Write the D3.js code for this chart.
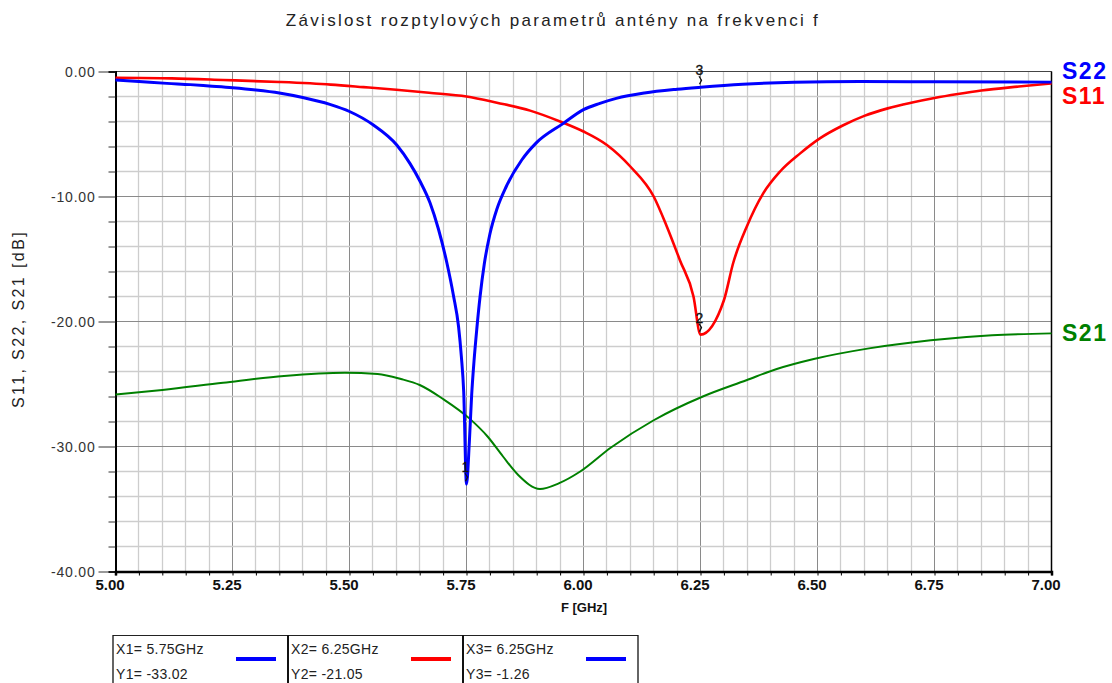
<!DOCTYPE html>
<html>
<head>
<meta charset="utf-8">
<script src="https://cdn.jsdelivr.net/npm/d3@7"></script>
<style>
  html, body { margin: 0; padding: 0; background: #fff; }
  svg { display: block; font-family: "Liberation Sans", Arial, sans-serif; }
</style>
</head>
<body>
<svg id="chart" width="1112" height="683"></svg>
<script>
// S-parameter sweep, frequency in GHz, magnitude in dB
const s22Freq = [5.00,5.05,5.11,5.16,5.20,5.25,5.30,5.35,5.40,5.458,5.50,5.551,5.601,5.629,5.651,5.672,5.690,5.708,5.722,5.733,5.739,5.744,5.75,5.756,5.761,5.766,5.772,5.779,5.788,5.800,5.815,5.835,5.868,5.898,5.957,6.00,6.035,6.07,6.13,6.20,6.25,6.34,6.45,6.59,6.75,7.00];
const s22Val  = [-0.68,-0.80,-0.95,-1.05,-1.16,-1.30,-1.48,-1.72,-2.08,-2.63,-3.20,-4.28,-5.88,-7.35,-8.80,-10.5,-12.6,-15.3,-17.9,-20.4,-22.8,-25.6,-33.02,-29.7,-25.9,-23.2,-20.6,-18.0,-15.4,-13.0,-11.0,-9.2,-7.08,-5.75,-4.15,-3.05,-2.55,-2.15,-1.72,-1.42,-1.26,-1.02,-0.86,-0.80,-0.82,-0.85];

const s11Freq = [5.00,5.12,5.23,5.35,5.46,5.53,5.60,5.67,5.75,5.815,5.886,5.95,6.00,6.05,6.10,6.15,6.178,6.206,6.235,6.25,6.30,6.32,6.349,6.384,6.42,6.463,6.505,6.555,6.60,6.65,6.70,6.75,6.80,6.85,6.93,7.00];
const s11Val  = [-0.50,-0.55,-0.68,-0.84,-1.05,-1.25,-1.46,-1.70,-2.00,-2.50,-3.13,-4.00,-4.80,-5.88,-7.60,-10.0,-12.4,-15.1,-18.0,-21.05,-18.3,-15.3,-12.4,-9.75,-8.00,-6.55,-5.35,-4.30,-3.55,-2.95,-2.50,-2.12,-1.80,-1.52,-1.20,-0.95];

const s21Freq = [5.00,5.10,5.23,5.36,5.49,5.56,5.61,5.65,5.70,5.756,5.795,5.828,5.861,5.907,5.947,5.993,6.058,6.15,6.255,6.348,6.413,6.492,6.61,6.742,6.873,7.00];
const s21Val  = [-25.85,-25.48,-24.9,-24.36,-24.1,-24.2,-24.6,-25.08,-26.2,-27.75,-29.2,-30.8,-32.3,-33.4,-32.95,-32.0,-30.1,-27.9,-26.0,-24.7,-23.8,-23.0,-22.15,-21.5,-21.1,-20.95];

const seriesNames  = ["S22", "S11", "S21"];
const seriesColors = ["#0000ff", "#ff0000", "#008000"];

// Markers: index, frequency, value, colour of the traced curve
const markerIds    = [1, 2, 3];
const markerFreq   = [5.75, 6.25, 6.25];
const markerVal    = [-33.02, -21.05, -1.26];
const markerColors = ["#0000ff", "#ff0000", "#0000ff"];

const xTicks = [5.00, 5.25, 5.50, 5.75, 6.00, 6.25, 6.50, 6.75, 7.00];
const yTicks = [0, -10, -20, -30, -40];

// Plain hyphen as the minus sign
const fmt2 = d3.formatLocale({ decimal: ".", thousands: ",", grouping: [3], currency: ["", ""], minus: "-" }).format(".2f");

const svg = d3.select("#chart");

const x = d3.scaleLinear().domain([5, 7]).range([115.5, 1051.5]);
const y = d3.scaleLinear().domain([0, -40]).range([71.5, 571.5]);

// Title
svg.append("text")
  .attr("x", 553).attr("y", 26)
  .attr("text-anchor", "middle")
  .attr("font-size", 17).attr("letter-spacing", 2.3).attr("fill", "#222")
  .text("Závislost rozptylových parametrů antény na frekvenci f");

// Grid
const grid = svg.append("g");
const xMinor = d3.range(0, 41).map(i => 5 + i * 0.05);
const yMinor = d3.range(0, 21).map(i => -i * 2);
grid.selectAll(".vx").data(xMinor).join("line")
  .attr("x1", d => Math.round(x(d) - 0.5) + 0.5).attr("x2", d => Math.round(x(d) - 0.5) + 0.5)
  .attr("y1", y(0)).attr("y2", y(-40))
  .attr("stroke", (d, i) => i % 5 === 0 ? "#8a8a8a" : "#cdcdcd")
  .attr("stroke-width", (d, i) => i % 5 === 0 ? 1 : 1.3);
grid.selectAll(".hy").data(yMinor).join("line")
  .attr("y1", d => y(d)).attr("y2", d => y(d))
  .attr("x1", x(5)).attr("x2", x(7))
  .attr("stroke", (d, i) => i % 5 === 0 ? "#8a8a8a" : "#cdcdcd")
  .attr("stroke-width", (d, i) => i % 5 === 0 ? 1 : 1.3);

// Frame
svg.append("line").attr("x1", x(5)).attr("x2", x(7)).attr("y1", y(0)).attr("y2", y(0))
  .attr("stroke", "#444").attr("stroke-width", 1);
svg.append("line").attr("x1", x(7)).attr("x2", x(7)).attr("y1", y(0)).attr("y2", y(-40))
  .attr("stroke", "#000").attr("stroke-width", 1.5);

// Y axis
const yAxis = d3.axisLeft(y)
  .tickValues(yMinor)
  .tickSize(7)
  .tickFormat(d => yTicks.includes(d) ? fmt2(d) : "");
const gy = svg.append("g").attr("transform", `translate(${x(5)},0)`).call(yAxis);
gy.select(".domain").attr("stroke", "#000").attr("stroke-width", 2);
gy.selectAll(".tick line")
  .attr("x2", d => yTicks.includes(d) ? -17 : -7)
  .attr("stroke", "#333");
gy.selectAll(".tick text")
  .attr("x", -20).attr("dy", "0.35em")
  .attr("font-family", "Liberation Sans, Arial, sans-serif")
  .attr("font-size", 14).attr("letter-spacing", 0.8).attr("fill", "#333");

// X axis
const xAxis = d3.axisBottom(x)
  .tickValues(xMinor)
  .tickSize(4)
  .tickFormat(d => xTicks.some(t => Math.abs(t - d) < 1e-9) ? fmt2(d) : "");
const gx = svg.append("g").attr("transform", `translate(0,${y(-40)})`).call(xAxis);
gx.select(".domain").attr("stroke", "#000").attr("stroke-width", 2.5);
gx.selectAll(".tick line").attr("stroke", "#000");
gx.selectAll(".tick text")
  .attr("x", -6).attr("y", 6).attr("dy", "0.8em")
  .attr("font-family", "Liberation Sans, Arial, sans-serif")
  .attr("font-size", 15).attr("font-weight", "bold").attr("fill", "#111");

// Axis titles
svg.append("text")
  .attr("x", 584).attr("y", 612)
  .attr("text-anchor", "middle")
  .attr("font-size", 13).attr("font-weight", "bold").attr("fill", "#111")
  .text("F [GHz]");
svg.append("text")
  .attr("transform", "translate(24,319) rotate(-90)")
  .attr("text-anchor", "middle")
  .attr("font-size", 16).attr("letter-spacing", 2.4).attr("fill", "#222")
  .text("S11, S22, S21 [dB]");

// Curves
const line = d3.line()
  .x(d => x(d[0])).y(d => y(d[1]))
  .curve(d3.curveMonotoneX);
const curves = [
  { f: s21Freq, v: s21Val, color: seriesColors[2], w: 2 },
  { f: s11Freq, v: s11Val, color: seriesColors[1], w: 2.6 },
  { f: s22Freq, v: s22Val, color: seriesColors[0], w: 3 }
];
curves.forEach(c => {
  svg.append("path")
    .datum(c.f.map((f, i) => [f, c.v[i]]))
    .attr("d", line)
    .attr("fill", "none")
    .attr("stroke", c.color)
    .attr("stroke-width", c.w)
    .attr("stroke-linejoin", "round");
});

// Curve names at the right edge
const nameY = [s22Val[s22Val.length - 1], s11Val[s11Val.length - 1], s21Val[s21Val.length - 1]];
const nameOffset = [-3, 21, 8];
seriesNames.forEach((n, i) => {
  svg.append("text")
    .attr("x", 1062).attr("y", y(nameY[i]) + nameOffset[i])
    .attr("font-size", 23).attr("letter-spacing", 1.5).attr("font-weight", "bold")
    .attr("fill", seriesColors[i])
    .text(n);
});

// Marker flags
markerIds.forEach((id, i) => {
  const px = x(markerFreq[i]), py = y(markerVal[i]);
  svg.append("text")
    .attr("x", px - 1).attr("y", py - 12)
    .attr("text-anchor", "middle")
    .attr("font-size", 14).attr("fill", "#111")
    .attr("stroke", "#111").attr("stroke-width", 0.3)
    .text(id);
  svg.append("path")
    .attr("d", `M${px - 1.5},${py - 11} L${px + 1},${py - 7} L${px - 1},${py - 3}`)
    .attr("fill", "none").attr("stroke", "#111").attr("stroke-width", 1.3);
});

// Marker read-out table
const cellW = 175, tableX = 113, tableY = 635;
const table = svg.append("g");
markerIds.forEach((id, i) => {
  const cx = tableX + i * cellW;
  table.append("text")
    .attr("x", cx + 3).attr("y", tableY + 19)
    .attr("font-size", 14).attr("letter-spacing", 0.3).attr("fill", "#222")
    .text(`X${id}= ${fmt2(markerFreq[i])}GHz`);
  table.append("text")
    .attr("x", cx + 3).attr("y", tableY + 44)
    .attr("font-size", 14).attr("letter-spacing", 0.3).attr("fill", "#222")
    .text(`Y${id}= ${fmt2(markerVal[i])}`);
  table.append("line")
    .attr("x1", cx + 123).attr("x2", cx + 163)
    .attr("y1", tableY + 24).attr("y2", tableY + 24)
    .attr("stroke", markerColors[i]).attr("stroke-width", 4);
});
table.append("line")
  .attr("x1", tableX).attr("x2", tableX + 3 * cellW)
  .attr("y1", tableY + 0.5).attr("y2", tableY + 0.5)
  .attr("stroke", "#222").attr("stroke-width", 1.2);
d3.range(0, 4).forEach(k => {
  table.append("line")
    .attr("x1", tableX + k * cellW).attr("x2", tableX + k * cellW)
    .attr("y1", tableY).attr("y2", 690)
    .attr("stroke", "#111").attr("stroke-width", k === 0 || k === 3 ? 1.3 : 2);
});
</script>
</body>
</html>
